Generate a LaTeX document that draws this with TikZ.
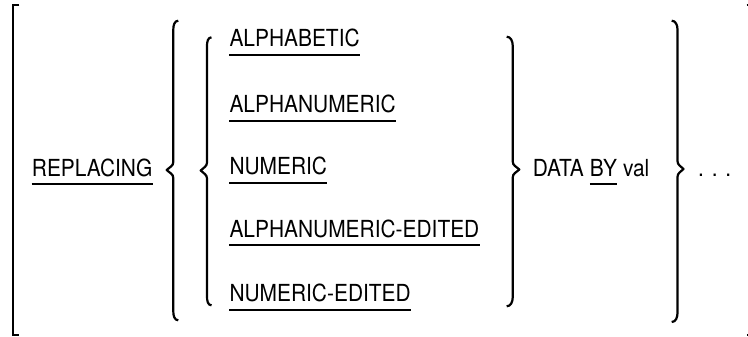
\documentclass[tikz,border=0pt]{standalone}
\usepackage{fontspec}
\setmainfont{TeX Gyre Heros}[FakeStretch=0.89]
\usetikzlibrary{positioning}

\begin{document}
\begin{tikzpicture}[x=1pt, y=-1pt,
    word/.style={inner sep=0pt, anchor=base west, font=\fontsize{23.5}{28}\selectfont},
    uline/.style={line width=2pt},
    bracket/.style={line width=2pt},
    brace/.style={line width=2.2pt, line join=round}]

    \useasboundingbox (0,0) rectangle (748,337);

    % Square brackets
    \draw[bracket] (19.3,5) -- (13.3,5) -- (13.3,335) -- (19.3,335);
    \draw[bracket] (746.5,5) -- (751,5) -- (751,335) -- (746.5,335);

    % Keyword
    \node[word] (repl) at (31.7,176) {REPLACING};
    \draw[uline] ([yshift=-8pt]repl.base west) -- ([yshift=-8pt]repl.base east);

    % Outer braces
    \draw[brace] (178.3,20.7) to[out=180,in=90] (173.3,29.5) -- (173.3,162)
        to[out=-90,in=45] (166.7,170) to[out=-45,in=90] (173.3,178)
        -- (173.3,311.5) to[out=-90,in=180] (178.3,320.3);
    \draw[brace] (671.7,20.7) to[out=0,in=90] (677.5,29.5) -- (677.5,161)
        to[out=-90,in=135] (683.5,169) to[out=-135,in=90] (677.5,177)
        -- (677.5,313) to[out=-90,in=0] (671.7,322);

    % Inner braces
    \draw[brace] (211.5,37.3) to[out=180,in=90] (207,46) -- (207,162.5)
        to[out=-90,in=45] (200.7,170.5) to[out=-45,in=90] (207,178.5)
        -- (207,296.5) to[out=-90,in=180] (211.5,305.3);
    \draw[brace] (506.7,36.7) to[out=0,in=90] (512.7,45.5) -- (512.7,161.5)
        to[out=-90,in=135] (519.3,169.5) to[out=-135,in=90] (512.7,177.5)
        -- (512.7,297.5) to[out=-90,in=0] (506.7,306.3);

    % Choices
    \node[word] (alpha) at (229.3,46.7) {ALPHABETIC};
    \node[word] (alnum) at (229.3,112.7) {ALPHANUMERIC};
    \node[word] (num) at (229.3,175) {NUMERIC};
    \node[word] (alnumed) at (229.3,237.3) {ALPHANUMERIC-EDITED};
    \node[word] (numed) at (229.3,301.7) {NUMERIC-EDITED};

    \draw[uline] ([yshift=-8pt]alpha.base west) -- ([yshift=-8pt]alpha.base east);
    \draw[uline] ([yshift=-8pt]alnum.base west) -- ([yshift=-8pt]alnum.base east);
    \draw[uline] ([yshift=-8pt]num.base west) -- ([yshift=-8pt]num.base east);
    \draw[uline] ([yshift=-8pt]alnumed.base west) -- ([yshift=-8pt]alnumed.base east);
    \draw[uline] ([yshift=-8pt]numed.base west) -- ([yshift=-8pt]numed.base east);

    % Tail
    \node[word] (data) at (532.7,176) {DATA};
    \node[word, base right=5.7pt of data] (by) {BY};
    \node[word, base right=5.7pt of by] (val) {val};
    \draw[uline] ([yshift=-8pt]by.base west) -- ([yshift=-8pt]by.base east);

    \node[word] (dots) at (698,176) {. . .};

\end{tikzpicture}
\end{document}
